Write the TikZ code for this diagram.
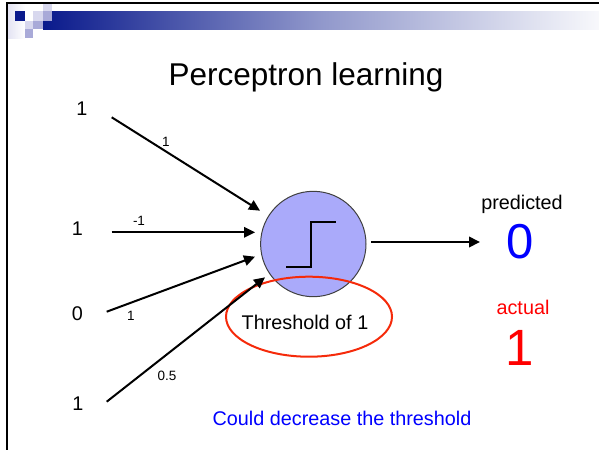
\documentclass[tikz,border=0pt]{standalone}
\usepackage{fontspec}
\setmainfont{Liberation Sans}
\usetikzlibrary{arrows.meta}
\definecolor{navy}{HTML}{0A1A8C}
\definecolor{lavlight}{HTML}{D8D8EE}
\definecolor{lavmed}{HTML}{A9AAD8}
\definecolor{neuronfill}{HTML}{AAAAFA}
\definecolor{ellred}{HTML}{F52A0A}
\definecolor{txtblue}{HTML}{0000FF}
\definecolor{txtred}{HTML}{FF0000}
\newcommand\setfs[1]{\fontsize{#1}{#1}\selectfont}
\begin{document}
\begin{tikzpicture}[x=1pt,y=-1pt,
  lbl/.style={font=\setfs{19.8}, anchor=base, inner sep=0pt},
  wlbl/.style={font=\setfs{13.5}, anchor=base, inner sep=0pt},
  arr/.style={line width=2pt, -{Triangle[length=11pt,width=10.5pt]}},
  sq/.style={draw=none}
]
\useasboundingbox (0,0) rectangle (599,450);
% header decoration
\shade[left color=lavlight!70, right color=white] (8,4) rectangle (25,38);
\shade[left color=navy, right color=white!97!navy, middle color=navy!45] (43,11) rectangle (599,29);
\fill[navy] (15,11) rectangle (25,21);
\fill[lavlight] (33,11) rectangle (43,21);
\fill[lavlight] (43,4) rectangle (52,11);
\fill[lavmed] (43,11) rectangle (52,21);
\fill[lavlight] (25,21) rectangle (33,29);
\fill[lavmed] (33,21) rectangle (43,29);
\fill[lavmed] (25,29) rectangle (33,38);
% borders
\fill[black] (6,2) rectangle (599,4.2);
\fill[black] (6,2) rectangle (8.3,450);
% title
\node[font=\setfs{31.5}, anchor=base, inner sep=0pt] (title) at (306,85) {Perceptron learning};
% neuron
\node[circle, draw=black!75, line width=1pt, fill=neuronfill, minimum size=105.4pt, inner sep=0pt] (neuron) at (313.3,244) {};
\draw[line width=2pt] (286,267) -- (311,267) -- (311,222) -- (336,222);
% threshold ellipse
\draw[ellred, line width=2pt] (309,316.7) ellipse [x radius=83, y radius=40];
\node[lbl] (thr) at (305,329.3) {Threshold of 1};
% inputs
\node[lbl] (x1) at (82,115) {1};
\node[lbl] (x2) at (77.5,235.7) {1};
\node[lbl] (x3) at (77.5,320.7) {0};
\node[lbl] (x4) at (78,410) {1};
\coordinate (s1) at (111.7,117.3);
\coordinate (s2) at (111.7,232.3);
\coordinate (s3) at (106.7,311.7);
\coordinate (s4) at (106.7,401.7);
\coordinate (t1) at (260,210.7);
\coordinate (t2) at (255,232.3);
\coordinate (t3) at (255,256.7);
\coordinate (t4) at (265,277.3);
\draw[arr] (s1) -- (t1);
\draw[arr] (s2) -- (t2);
\draw[arr] (s3) -- (t3);
\draw[arr] (s4) -- (t4);
% weights
\node[wlbl] (w1) at (166,146.7) {1};
\node[wlbl] (w2) at (139,225) {-1};
\node[wlbl] (w3) at (131,320.7) {1};
\node[wlbl] (w4) at (167,380) {0.5};
% output
\coordinate (o0) at (371,242);
\coordinate (o1) at (480,242);
\draw[arr] (o0) -- (o1);
\node[lbl] (pred) at (522,209.3) {predicted};
\node[font=\setfs{49}, anchor=base, inner sep=0pt, text=txtblue] (pv) at (520,258.3) {0};
\node[lbl, text=txtred] (act) at (523,314) {actual};
\node[font=\setfs{51}, anchor=base, inner sep=0pt, text=txtred] (av) at (520,365) {1};
% note
\node[lbl, text=txtblue] (note) at (342,425) {Could decrease the threshold};
\end{tikzpicture}
\end{document}
